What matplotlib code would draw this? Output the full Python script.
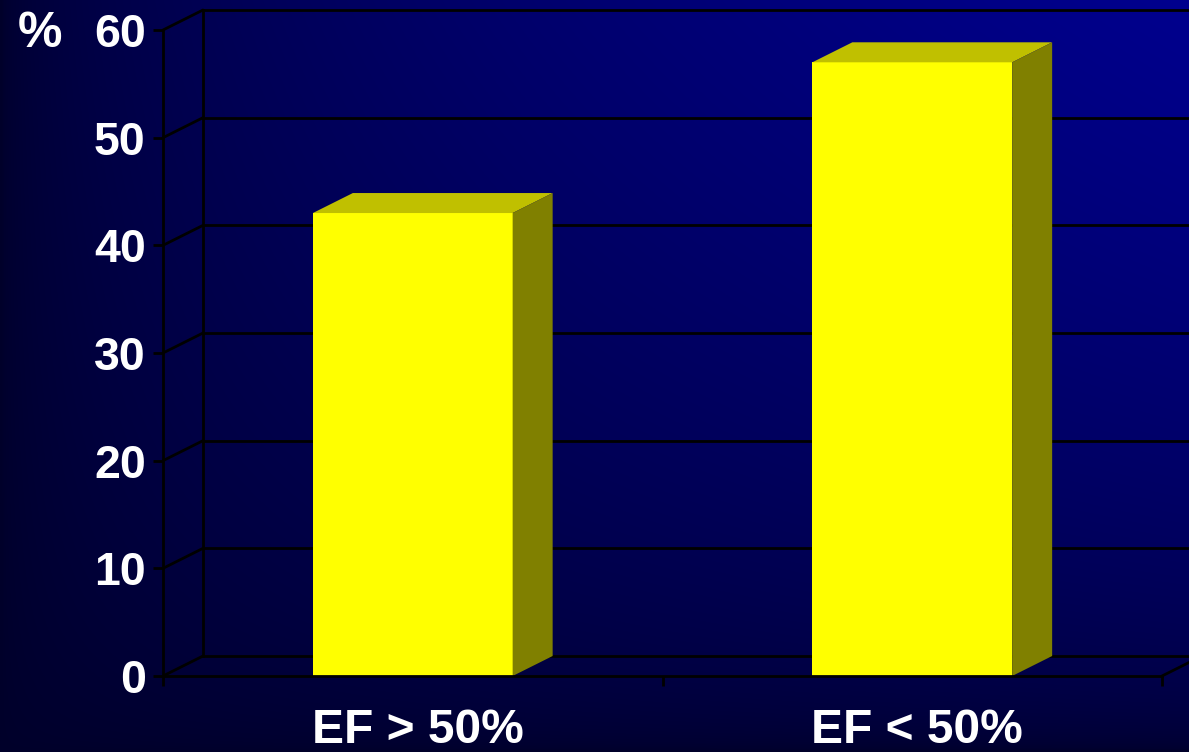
import numpy as np
import matplotlib.pyplot as plt
from matplotlib.patches import Polygon
from matplotlib.transforms import ScaledTranslation

# data
categories = ["EF > 50%", "EF < 50%"]
values = [43, 57]
yticks = [0, 10, 20, 30, 40, 50, 60]

W, H, DPI = 1189, 752, 100
fig = plt.figure(figsize=(W / DPI, H / DPI), dpi=DPI)

# background: dark navy, brighter toward the top right
bg = fig.add_axes([0, 0, 1, 1])
u = np.linspace(0, 1, 400)[None, :]
v = np.linspace(1, 0, 300)[:, None]
f = np.sqrt(u * v)
img = np.zeros((300, 400, 3))
img[..., 2] = (42 + 100 * f) / 255
bg.imshow(img, extent=[0, 1, 0, 1], aspect="auto", interpolation="bilinear")
bg.set_axis_off()

# front plane of the plot (pixels: x 163..1162, y 676..30)
left, right, bottom, top = 163, 1162, 676, 30
ax = fig.add_axes([left / W, (H - bottom) / H, (right - left) / W, (bottom - top) / H])
ax.set_xlim(0, 2)
ax.set_ylim(0, 60)
ax.patch.set_alpha(0)

# depth of the 3d box: 40 px right, 20 px up
off = ax.transData + ScaledTranslation(0.40, 0.20, fig.dpi_scale_trans)
lc = "black"
lw = 2

# back wall gridlines + diagonal connectors
for t in yticks:
    ax.plot([0, 2.2], [t, t], color=lc, lw=lw, transform=off, clip_on=False, zorder=1)
    ax.annotate("", xy=(0, t), xycoords=off, xytext=(0, t), textcoords="data",
                arrowprops=dict(arrowstyle="-", color=lc, lw=lw, shrinkA=0, shrinkB=0),
                annotation_clip=False, zorder=1)
ax.plot([0, 0], [0, 60], color=lc, lw=lw, transform=off, clip_on=False, zorder=1)
ax.annotate("", xy=(2, 0), xycoords=off, xytext=(2, 0), textcoords="data",
            arrowprops=dict(arrowstyle="-", color=lc, lw=lw, shrinkA=0, shrinkB=0),
            annotation_clip=False, zorder=1)

# 3d bars
width = 0.40
dx = 0.40 * DPI / ((right - left) / 2)
dy = 0.20 * DPI / ((bottom - top) / 60)
for i, val in enumerate(values):
    x0 = i + 0.5 - width / 2
    x1 = i + 0.5 + width / 2
    ax.add_patch(Polygon([(x0, 0), (x1, 0), (x1, val), (x0, val)],
                         closed=True, facecolor="#FFFF00", edgecolor="none", zorder=3))
    ax.add_patch(Polygon([(x0, val), (x1, val), (x1 + dx, val + dy), (x0 + dx, val + dy)],
                         closed=True, facecolor="#C0C000", edgecolor="none", zorder=3))
    ax.add_patch(Polygon([(x1, 0), (x1 + dx, dy), (x1 + dx, val + dy), (x1, val)],
                         closed=True, facecolor="#808000", edgecolor="none", zorder=3))

# axes: front left and bottom edges
for s in ["top", "right"]:
    ax.spines[s].set_visible(False)
for s in ["left", "bottom"]:
    ax.spines[s].set_color(lc)
    ax.spines[s].set_linewidth(lw)
    ax.spines[s].set_zorder(4)

ax.set_yticks(yticks)
ax.set_yticklabels([str(t) for t in yticks])
ax.tick_params(axis="y", direction="out", length=7.5, width=lw, color=lc, pad=5,
               labelcolor="white", labelsize=33.5)
ax.set_xticks([0, 1, 2])
ax.set_xticklabels(["", "", ""])
ax.tick_params(axis="x", which="major", direction="out", length=7.5, width=lw, color=lc)
ax.set_xticks([0.5, 1.5], minor=True)
ax.set_xticklabels(categories, minor=True)
ax.tick_params(axis="x", which="minor", length=0, pad=23, labelcolor="white", labelsize=34.5)
for lab in ax.get_yticklabels() + ax.get_xticklabels(minor=True):
    lab.set_family("Liberation Sans")
    lab.set_weight("bold")
# category labels sit a little right of the bar centres
for lab in ax.get_xticklabels(minor=True):
    lab.set_transform(lab.get_transform() + ScaledTranslation(0.05, 0, fig.dpi_scale_trans))

fig.text(40 / W, 1 - 34 / H, "%", color="white", fontsize=36, fontweight="bold",
         family="Liberation Sans", ha="center", va="center")

fig.savefig("out.png", dpi=DPI)
